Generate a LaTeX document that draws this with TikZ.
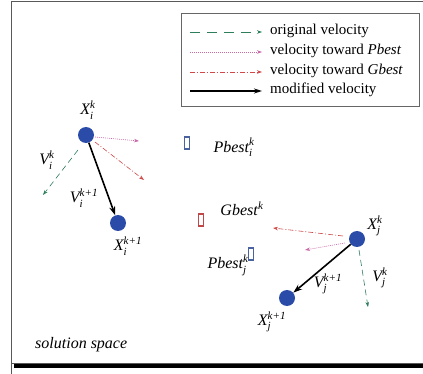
\documentclass[tikz,border=0pt]{standalone}
\usepackage{fontspec}
\setmainfont{Liberation Serif}
\usetikzlibrary{arrows.meta}
\definecolor{dotblue}{HTML}{2A4BA8}
\definecolor{vgreen}{HTML}{2E7D5B}
\definecolor{vpink}{HTML}{C86AA8}
\definecolor{vred}{HTML}{D04848}
\definecolor{rblue}{HTML}{4A62A0}
\definecolor{rred}{HTML}{C04848}
\newcommand{\scr}[1]{\mbox{\fontsize{11}{12}\selectfont\itshape #1}}
\newcommand{\lbl}[3]{$\mbox{\itshape #1}^{\scr{#2}}_{\scr{#3}}$}
\tikzset{
  dot/.style={circle, fill=dotblue, minimum size=16pt, inner sep=0pt},
  orig/.style={vgreen, dash pattern=on 6pt off 4pt, line width=0.6pt, -{Stealth[length=5pt,width=3.5pt]}},
  towp/.style={vpink, dash pattern=on 1pt off 1pt, line width=0.6pt, -{Stealth[length=5pt,width=3.5pt]}},
  towg/.style={vred, dash pattern=on 5pt off 2pt on 1pt off 2pt, line width=0.6pt, -{Stealth[length=5pt,width=3.5pt]}},
  modv/.style={black, line width=1.6pt, -{Stealth[length=9pt,width=6pt]}},
  bestbox/.style={draw, line width=1.2pt, minimum width=5pt, minimum height=12pt, inner sep=0pt},
  lab/.style={font=\fontsize{16}{18}\selectfont, inner sep=0pt},
  legtext/.style={font=\fontsize{15}{17}\selectfont, anchor=west, inner sep=0pt}
}
\begin{document}
\begin{tikzpicture}[x=1pt, y=-1pt]
\useasboundingbox (0,0) rectangle (423,374);
% outer frame
\draw[line width=4pt, black] (14,365.5) -- (423,365.5);
\draw[gray!70!black, line width=0.8pt] (11.5,375) -- (11.5,1.5) -- (424,1.5);
\draw[gray!70!black, line width=0.6pt] (11.5,363) -- (424,363);
% legend
\node[draw=gray!80!black, line width=0.7pt, minimum width=238pt, minimum height=93pt, inner sep=0pt] (legend) at (300,59.5) {};
\coordinate (l1a) at (190,32); \coordinate (l1b) at (262,32);
\coordinate (l2a) at (190,52); \coordinate (l2b) at (262,52);
\coordinate (l3a) at (190,72); \coordinate (l3b) at (262,72);
\coordinate (l4a) at (190,91); \coordinate (l4b) at (262,91);
\draw[orig, dash pattern=on 10pt off 7pt] (l1a) -- (l1b);
\draw[towp] (l2a) -- (l2b);
\draw[towg] (l3a) -- (l3b);
\draw[modv, line width=1.4pt, -{Stealth[length=8pt,width=5pt]}] (l4a) -- (l4b);
\node[legtext] (t1) at (270,31) {original velocity};
\node[legtext] (t2) at (270,51) {velocity toward \textit{Pbest}};
\node[legtext] (t3) at (270,71) {velocity toward \textit{Gbest}};
\node[legtext] (t4) at (270,90) {modified velocity};
% best positions
\node[bestbox, draw=rblue] (pbi) at (187,143) {};
\node[bestbox, draw=rred] (gb) at (201,220) {};
\node[bestbox, draw=rblue] (pbj) at (251,254) {};
\node[lab] (pbil) at (234,147) {\lbl{Pbest}{k}{i}};
\node[lab] (gbl) at (242,209) {\textit{Gbest}$^{\scr{k}}$};
\node[lab] (pbjl) at (228,265) {\lbl{Pbest}{k}{j}};
% particle i
\node[dot] (xi) at (86,135) {};
\node[dot] (xi1) at (118,223) {};
\node[lab] (xil) at (88,110) {\lbl{X}{k}{i}};
\node[lab] (xi1l) at (128,246) {\lbl{X}{k+1}{i}};
\node[lab] (vil) at (47,160) {\lbl{V}{k}{i}};
\node[lab] (vi1l) at (84,198) {\lbl{V}{k+1}{i}};
\coordinate (gi) at (43,195);
\coordinate (pi) at (139,141);
\coordinate (ri) at (144,180);
\draw[orig] (xi) ++(-8,15) -- (gi);
\draw[towp] (xi) ++(9,2) -- (pi);
\draw[towg] (xi) ++(9,7) -- (ri);
\draw[modv] (xi) -- (xi1);
% particle j
\node[dot] (xj) at (357,239) {};
\node[dot] (xj1) at (287,298) {};
\node[lab] (xjl) at (375,226) {\lbl{X}{k}{j}};
\node[lab] (xj1l) at (272,322) {\lbl{X}{k+1}{j}};
\node[lab] (vjl) at (380,278) {\lbl{V}{k}{j}};
\node[lab] (vj1l) at (328,284) {\lbl{V}{k+1}{j}};
\coordinate (gj) at (368,307);
\coordinate (pj) at (305,250);
\coordinate (rj) at (273,228);
\draw[orig] (xj) ++(2,11) -- (gj);
\draw[towp] (xj) ++(-12,4) -- (pj);
\draw[towg] (xj) ++(-14,-3) -- (rj);
\draw[modv] (xj) -- (xj1);
% caption
\node[font=\fontsize{16}{18}\selectfont\itshape, anchor=west, inner sep=0pt] (cap) at (35,345) {solution space};
\end{tikzpicture}
\end{document}
